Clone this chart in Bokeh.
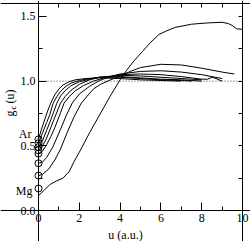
from math import pi
from bokeh.plotting import figure
from bokeh.models import (Range1d, LinearAxis, FixedTicker, NumeralTickFormatter, Label,
                          ColumnDataSource, CustomJSTickFormatter)
from bokeh.embed import file_html
from bokeh.resources import INLINE

# ---- data ----
x_ticks = [0, 2, 4, 6, 8, 10]
x_minor = [1, 3, 5, 7, 9]
y_ticks = [0.0, 0.5, 1.0, 1.5]
y_minor = [0.25, 0.75, 1.25]
x_limits = [0, 10]
y_limits = [0, 1.6]
ref_level = 1.0
x_label = "u (a.u.)"
atom_top = "Ar"
atom_bottom = "Mg"

g0_values = [0.55, 0.52, 0.49, 0.465, 0.44, 0.365, 0.27, 0.17]

u1 = [0, 0.15, 0.3, 0.45, 0.6, 0.8, 1.0, 1.2, 1.5, 1.8, 2.3, 3, 4, 5, 6, 7]
g1 = [0.55, 0.63, 0.70, 0.77, 0.83, 0.895, 0.94, 0.97, 0.995, 1.01, 1.02, 1.025, 1.02, 1.01, 1.005, 1.0]

u2 = [0, 0.2, 0.4, 0.55, 0.72, 0.9, 1.08, 1.3, 1.6, 2.0, 2.5, 3, 4, 5, 6, 7, 7.5]
g2 = [0.52, 0.6, 0.68, 0.74, 0.83, 0.88, 0.92, 0.955, 0.985, 1.005, 1.02, 1.03, 1.03, 1.02, 1.01, 1.005, 1.0]

u3 = [0, 0.2, 0.4, 0.6, 0.9, 1.08, 1.3, 1.6, 2.0, 2.5, 3, 4, 5, 6, 7, 8]
g3 = [0.49, 0.54, 0.62, 0.7, 0.83, 0.885, 0.925, 0.965, 0.995, 1.015, 1.03, 1.035, 1.025, 1.015, 1.01, 1.0]

u4 = [0, 0.2, 0.4, 0.6, 0.8, 1.08, 1.3, 1.6, 2.0, 2.5, 3, 4, 5, 6, 7, 8]
g4 = [0.465, 0.5, 0.56, 0.64, 0.72, 0.83, 0.88, 0.93, 0.975, 1.01, 1.03, 1.045, 1.04, 1.03, 1.02, 1.01]

u5 = [0, 0.2, 0.4, 0.6, 0.8, 1.08, 1.25, 1.5, 1.8, 2.2, 2.7, 3.2, 4, 5, 6, 7, 8, 8.3, 8.5, 8.7, 9.0]
g5 = [0.44, 0.46, 0.51, 0.57, 0.64, 0.756, 0.83, 0.88, 0.925, 0.965, 1.0, 1.025, 1.05, 1.055, 1.05, 1.035, 1.015, 1.015, 1.03, 1.02, 1.0]

u6 = [0, 0.2, 0.4, 0.7, 1.08, 1.35, 1.65, 2.0, 2.5, 3, 3.5, 4, 5, 6, 7, 8, 8.5, 9.0]
g6 = [0.365, 0.375, 0.41, 0.49, 0.628, 0.73, 0.83, 0.9, 0.96, 1.005, 1.035, 1.055, 1.075, 1.08, 1.07, 1.05, 1.035, 1.02]

u7 = [0, 0.2, 0.5, 0.8, 1.08, 1.4, 1.73, 2.1, 2.39, 2.7, 3.04, 3.53, 4.0, 4.5, 5, 6, 7, 8, 9, 9.6]
g7 = [0.27, 0.28, 0.32, 0.39, 0.475, 0.6, 0.72, 0.83, 0.885, 0.94, 0.975, 1.01, 1.04, 1.075, 1.105, 1.13, 1.125, 1.10, 1.07, 1.055]

u8 = [0, 0.3, 0.55, 0.9, 1.2, 1.5, 1.75, 2.0, 2.5, 3.0, 3.5, 4.0, 4.3, 4.7, 5.1, 5.5, 5.9, 6.3, 6.7, 7.5, 8.3, 9.0, 9.3, 9.5, 9.7, 10]
g8 = [0.115, 0.16, 0.2, 0.23, 0.25, 0.3, 0.38, 0.45, 0.6, 0.74, 0.88, 1.01, 1.08, 1.16, 1.23, 1.3, 1.36, 1.39, 1.415, 1.44, 1.45, 1.455, 1.445, 1.43, 1.405, 1.40]

curves_u = [u1, u2, u3, u4, u5, u6, u7, u8]
curves_g = [g1, g2, g3, g4, g5, g6, g7, g8]

FONT = "Liberation Serif"

# layout: the plotting box sits at 38..242 px horizontally and 3..210 px vertically
W, H = 250, 241
BOX_L, BOX_R, BOX_T, BOX_B = 38, 242, 3, 210
sx = (BOX_R - BOX_L) / (x_limits[1] - x_limits[0])
sy = (BOX_B - BOX_T) / (y_limits[1] - y_limits[0])
xr = Range1d(x_limits[0] - BOX_L / sx, x_limits[1] + (W - BOX_R) / sx)
yr = Range1d(y_limits[0] - (H - BOX_B) / sy, y_limits[1] + BOX_T / sy)

p = figure(width=W, height=H, output_backend="svg", toolbar_location=None,
           x_range=xr, y_range=yr, x_axis_location=None, y_axis_location=None,
           min_border=0, min_border_left=0, min_border_right=0,
           min_border_top=0, min_border_bottom=0)
p.background_fill_color = "white"
p.border_fill_color = "white"
p.grid.visible = False
p.outline_line_color = None

def make_axis(ticks, minor, fixed, major_in, minor_in, labels=True, fmt=None):
    ax = LinearAxis(ticker=FixedTicker(ticks=ticks, minor_ticks=minor),
                    fixed_location=fixed,
                    major_tick_in=major_in, major_tick_out=0,
                    minor_tick_in=minor_in, minor_tick_out=0,
                    axis_line_color="black", major_tick_line_color="black",
                    minor_tick_line_color="black",
                    major_label_text_font=FONT, major_label_text_font_size="12px",
                    major_label_text_color="black", major_label_standoff=3)
    if fmt is not None:
        ax.formatter = fmt
    if not labels:
        ax.formatter = CustomJSTickFormatter(code="return ''")
    return ax

bottom = make_axis(x_ticks, x_minor, y_limits[0], 8, 4)
bottom.axis_label = x_label
bottom.axis_label_text_font = FONT
bottom.axis_label_text_font_size = "12px"
bottom.axis_label_text_font_style = "normal"
bottom.axis_label_text_color = "black"
bottom.axis_label_standoff = 3
left = make_axis(y_ticks, y_minor, x_limits[0], 8, 4, fmt=NumeralTickFormatter(format="0.0"))
top = make_axis(x_ticks, x_minor, y_limits[1], 4, 4, labels=False)
right = make_axis(y_ticks, y_minor, x_limits[1], 4, 4, labels=False)
p.add_layout(bottom, "below")
p.add_layout(left, "left")
p.add_layout(top, "above")
p.add_layout(right, "right")

# dotted reference line at g = 1 across the box
p.segment(x0=[x_limits[0]], y0=[ref_level], x1=[x_limits[1]], y1=[ref_level],
          line_color="#444444", line_dash="1 2", line_width=1)

for uu, gg in zip(curves_u, curves_g):
    p.line(uu, gg, line_color="black", line_width=1)

src0 = ColumnDataSource(dict(u=[0] * len(g0_values), g=g0_values))
p.scatter("u", "g", source=src0, marker="circle", size=7, fill_color=None,
          line_color="black", line_width=1)

def px_x(px):
    return x_limits[0] + (px - BOX_L) / sx

def px_y(py):
    return y_limits[0] + (BOX_B - py) / sy

def lab(text, px, py, size="12px", align="right", angle=0.0):
    return Label(x=px_x(px), y=px_y(py), text=text,
                 text_align=align, text_baseline="middle", angle=angle,
                 text_font=FONT, text_font_size=size, text_color="black")

# atom labels next to the u = 0 circles
p.add_layout(lab(atom_top, 31, 133))
p.add_layout(lab(atom_bottom, 32, 190))

# y axis title g_c(u), rotated
p.add_layout(lab("g", 9, 116, align="left", angle=pi / 2))
p.add_layout(lab("c", 12, 109, size="9px", align="left", angle=pi / 2))
p.add_layout(lab("(u)", 9, 103, align="left", angle=pi / 2))

open("out.html", "w").write(file_html(p, INLINE))
